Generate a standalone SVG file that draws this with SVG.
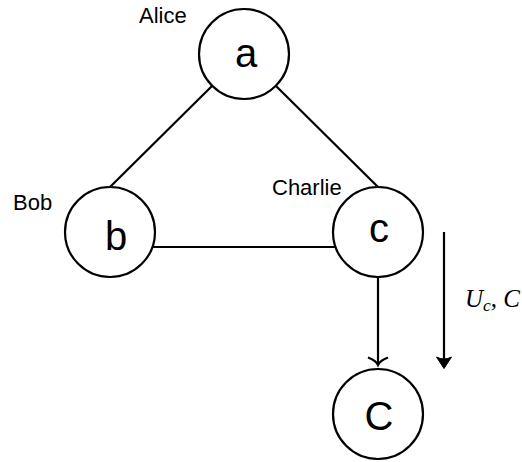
<svg xmlns="http://www.w3.org/2000/svg" width="522" height="462" viewBox="0 0 522 462">
  <style>
    .node circle { fill: #ffffff; stroke: #000000; stroke-width: 2.2; }
    .node .sym { font-family: "Liberation Sans", Arial, sans-serif; font-size: 40px; text-anchor: middle; fill: #000000; }
    .name { font-family: "Liberation Sans", Arial, sans-serif; font-size: 22px; fill: #000000; }
    .edge { stroke: #000000; stroke-width: 2.2; fill: none; }
    .math { font-family: "Liberation Serif", "Times New Roman", serif; font-size: 25px; fill: #000000; }
  </style>

  <rect width="522" height="462" fill="#ffffff"/>

  <!-- connectors -->
  <g id="connectors">
    <line class="edge" x1="212" y1="86" x2="110" y2="187"/>
    <line class="edge" x1="276" y1="86" x2="378" y2="187"/>
    <line class="edge" x1="152" y1="247" x2="336" y2="247"/>
    <!-- c to C -->
    <line class="edge" x1="378" y1="277" x2="378" y2="364"/>
    <path class="edge" d="M368,357.5 Q376,360.5 378,365 Q380,360.5 388,357.5"/>
    <!-- side arrow with label -->
    <line class="edge" x1="444" y1="232" x2="444" y2="364"/>
    <path d="M444,368.5 L436.5,357 Q444,361 451.5,357 Z" fill="#000000" stroke="#000000" stroke-width="1" stroke-linejoin="round"/>
    <text class="math" x="465" y="307"><tspan font-style="italic">U</tspan><tspan font-style="italic" font-size="17.5" dy="4">c</tspan><tspan dy="-4">, </tspan><tspan font-style="italic">C</tspan></text>
  </g>

  <g id="node-a" class="node">
    <circle cx="244" cy="54" r="45"/>
    <text class="sym" x="246" y="67">a</text>
  </g>
  <text class="name" x="139" y="23">Alice</text>

  <g id="node-b" class="node">
    <circle cx="110" cy="232" r="45"/>
    <text class="sym" x="116" y="250">b</text>
  </g>
  <text class="name" x="13" y="210">Bob</text>

  <g id="node-c" class="node">
    <circle cx="378" cy="232" r="45"/>
    <text class="sym" x="379" y="242">c</text>
  </g>
  <text class="name" x="272" y="195">Charlie</text>

  <g id="node-C" class="node">
    <circle cx="378" cy="414" r="45"/>
    <text class="sym" x="379" y="430">C</text>
  </g>
</svg>
